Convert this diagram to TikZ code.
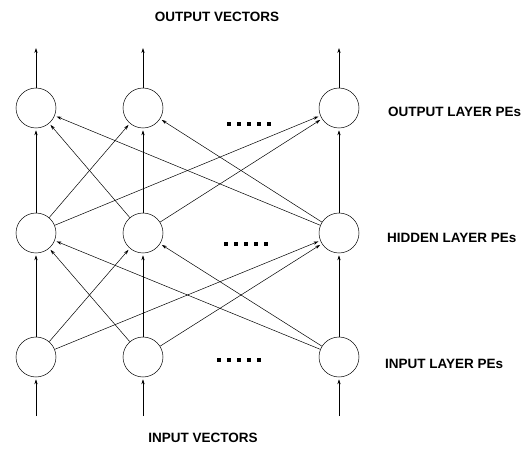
\documentclass[tikz,border=0pt]{standalone}
\usepackage{fontspec}
\setmainfont{Liberation Sans}
\usetikzlibrary{arrows.meta,positioning}
\tikzset{
  pe/.style={circle,draw,line width=0.5pt,minimum size=40pt,inner sep=0pt},
  link/.style={-{Stealth[length=5pt,width=3.2pt]},line width=0.5pt,shorten >=2pt},
  lab/.style={inner sep=0pt,font=\bfseries\fontsize{13.5}{15}\selectfont},
  dot/.style={rectangle,fill,inner sep=0pt,minimum size=3.2pt},
}

\begin{document}
\begin{tikzpicture}[x=1pt,y=-1pt]
  \useasboundingbox (0,0) rectangle (523,460);
  % three columns of PEs, one row per layer
  \foreach \n/\x in {1/36,2/143,3/339} {
    \node[pe] (o\n) at (\x,108) {};
    \node[pe] (h\n) at (\x,233) {};
    \node[pe] (i\n) at (\x,357) {};
    \coordinate (top\n) at (\x,46);
    \coordinate (bot\n) at (\x,416);
  }
  % fully connected layers
  \foreach \a in {1,2,3}
    \foreach \b in {1,2,3} {
      \draw[link] (i\a) -- (h\b);
      \draw[link] (h\a) -- (o\b);
    }
  \foreach \n in {1,2,3} {
    \draw[link] (o\n) -- (top\n);
    \draw[link] (bot\n) -- (i\n);
  }
  % the dots between columns
  \foreach \r/\y/\x in {o/124/229, h/244/226, i/360/219}
    \foreach \k in {0,...,4}
      \node[dot] (dot\r\k) at (\x+10*\k,\y) {};
  \node[lab] (outvec) at (217,17) {OUTPUT VECTORS};
  \node[lab] (invec) at (203,438) {INPUT VECTORS};
  \node[lab,anchor=west] (olab) at (388,112) {OUTPUT LAYER PEs};
  \node[lab,anchor=west] (hlab) at (387,238) {HIDDEN LAYER PEs};
  \node[lab,anchor=west] (ilab) at (385,364) {INPUT LAYER PEs};
\end{tikzpicture}
\end{document}
